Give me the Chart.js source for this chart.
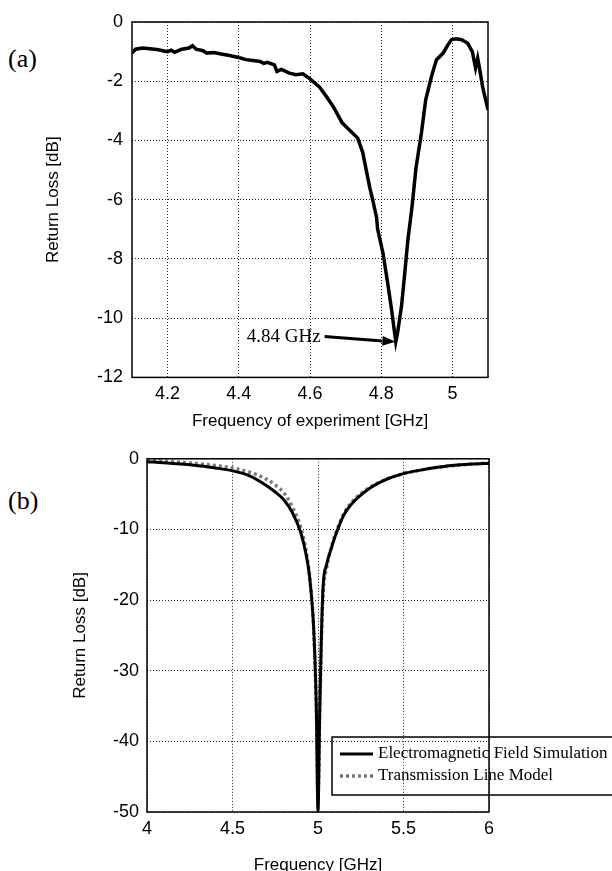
<!DOCTYPE html>
<html>
<head>
<meta charset="utf-8">
<script src="https://cdn.jsdelivr.net/npm/chart.js@4/dist/chart.umd.min.js"></script>
<style>
  body { margin: 0; width: 612px; height: 871px; overflow: hidden; background: #fff; position: relative; }
  canvas { position: absolute; left: 0; }
  .tag { position: absolute; left: 8px; font: 26px "Liberation Serif", "Times New Roman", serif; color: #000; }
</style>
</head>
<body>
<div class="tag" style="top:44px">(a)</div>
<div class="tag" style="top:486px">(b)</div>
<canvas id="chartA" width="612" height="440" style="top:0"></canvas>
<canvas id="chartB" width="612" height="440" style="top:440px"></canvas>
<script>
// (a) measured return loss
const freqA = [4.10, 4.11, 4.13, 4.15, 4.17, 4.19, 4.20, 4.21, 4.22, 4.24, 4.26, 4.27, 4.28, 4.30, 4.31, 4.33, 4.35, 4.37, 4.38, 4.40,
               4.42, 4.44, 4.46, 4.47, 4.48, 4.50, 4.507, 4.52, 4.54, 4.56, 4.58, 4.60, 4.627, 4.645, 4.665, 4.69, 4.71, 4.734, 4.748, 4.768,
               4.776, 4.787, 4.79, 4.805, 4.818, 4.829, 4.841, 4.846, 4.857, 4.866, 4.875, 4.886, 4.898, 4.913, 4.925, 4.941, 4.955, 4.974, 4.987, 4.997,
               5.01, 5.026, 5.043, 5.056, 5.065, 5.071, 5.076, 5.085, 5.10];
const lossA = [-1.05, -0.92, -0.88, -0.9, -0.93, -0.98, -1.0, -0.95, -1.02, -0.92, -0.88, -0.8, -0.92, -0.97, -1.05, -1.03, -1.08, -1.12, -1.15, -1.2,
               -1.27, -1.3, -1.33, -1.4, -1.36, -1.45, -1.67, -1.6, -1.72, -1.78, -1.75, -1.92, -2.2, -2.5, -2.85, -3.4, -3.64, -3.92, -4.4, -5.6,
               -6.0, -6.6, -7.0, -7.8, -8.8, -9.7, -10.8, -10.5, -9.6, -8.5, -7.35, -6.3, -4.9, -3.75, -2.63, -1.85, -1.28, -1.05, -0.78, -0.6,
               -0.57, -0.6, -0.72, -1.0, -1.55, -1.22, -1.55, -2.2, -2.97];
const xTicksA = [4.2, 4.4, 4.6, 4.8, 5.0];
const yTicksA = [0, -2, -4, -6, -8, -10, -12];
const annotFreq = 4.84, annotLoss = -10.8, annotTailFreq = 4.641, annotTailLoss = -10.62;
const annotText = '4.84 GHz';

// (b) simulation vs transmission line model
const freqB = [4.0, 4.1, 4.2, 4.3, 4.4, 4.5, 4.6, 4.7, 4.75, 4.8, 4.85, 4.9, 4.93, 4.95, 4.97, 4.98, 4.99, 5.0,
               5.01, 5.02, 5.03, 5.05, 5.08, 5.1, 5.15, 5.2, 5.3, 5.4, 5.5, 5.6, 5.7, 5.8, 5.9, 6.0];
const simB = [-0.4, -0.55, -0.75, -1.0, -1.3, -1.7, -2.4, -3.8, -4.7, -5.8, -7.6, -10.5, -13.5, -16.5, -22, -27, -35, -50,
              -36, -25, -18, -15, -12.5, -11, -8, -6.3, -4.2, -2.9, -2.1, -1.6, -1.2, -0.9, -0.75, -0.65];
const tlB = [-0.3, -0.35, -0.5, -0.7, -0.95, -1.3, -1.9, -2.9, -3.7, -4.8, -6.8, -9.8, -13, -16.5, -22, -27, -35, -48,
             -36, -25.5, -19, -15.5, -12.3, -10.8, -7.8, -6.1, -4.1, -2.9, -2.1, -1.6, -1.2, -0.95, -0.75, -0.6];
const xTicksB = [4, 4.5, 5, 5.5, 6];
const yTicksB = [0, -10, -20, -30, -40, -50];
const seriesNames = ['Electromagnetic Field Simulation', 'Transmission Line Model'];

Chart.defaults.font.family = '"Liberation Sans", Arial, sans-serif';
Chart.defaults.color = '#000';

function pts(xs, ys) { return xs.map((x, i) => ({x: x, y: ys[i]})); }
function fmt(v) { return String(Math.round(v * 100) / 100); }

// solid frame round the plot area
const framePlugin = {
  id: 'frame',
  afterDraw(chart) {
    const a = chart.chartArea, ctx = chart.ctx;
    ctx.save();
    ctx.strokeStyle = '#000';
    ctx.lineWidth = 1.5;
    ctx.strokeRect(a.left, a.top, a.right - a.left, a.bottom - a.top);
    ctx.restore();
  }
};

function axes(xMin, xMax, xTicks, yMin, yMax, yTicks, yWidth, yPad, xHeight, xTitle) {
  const grid = {color: '#222', lineWidth: 1, drawTicks: false};
  return {
    x: {
      type: 'linear', min: xMin, max: xMax,
      afterBuildTicks: s => { s.ticks = xTicks.map(v => ({value: v})); },
      afterFit: s => { s.height = xHeight; },
      grid: grid, border: {display: false, dash: [1, 2]},
      ticks: {padding: 6, font: {size: 18}, maxRotation: 0, callback: fmt},
      title: {display: true, text: xTitle, font: {size: 17}, padding: 0}
    },
    y: {
      type: 'linear', min: yMin, max: yMax,
      afterBuildTicks: s => { s.ticks = yTicks.map(v => ({value: v})); },
      afterFit: s => { s.width = yWidth; },
      grid: grid, border: {display: false, dash: [1, 2]},
      ticks: {padding: yPad, font: {size: 18}, callback: fmt},
      title: {display: true, text: 'Return Loss [dB]', font: {size: 17}, padding: 0}
    }
  };
}

// arrow pointing to the minimum of the measured curve
const arrowPlugin = {
  id: 'arrow',
  afterDatasetsDraw(chart) {
    const xs = chart.scales.x, ys = chart.scales.y, ctx = chart.ctx;
    const tx = xs.getPixelForValue(annotFreq), ty = ys.getPixelForValue(annotLoss);
    const sx = xs.getPixelForValue(annotTailFreq), sy = ys.getPixelForValue(annotTailLoss);
    const ang = Math.atan2(ty - sy, tx - sx), head = 13;
    ctx.save();
    ctx.strokeStyle = '#000';
    ctx.fillStyle = '#000';
    ctx.lineWidth = 3;
    ctx.beginPath();
    ctx.moveTo(sx, sy);
    ctx.lineTo(tx - head * Math.cos(ang), ty - head * Math.sin(ang));
    ctx.stroke();
    ctx.beginPath();
    ctx.moveTo(tx, ty);
    ctx.lineTo(tx - head * Math.cos(ang) + 5 * Math.sin(ang), ty - head * Math.sin(ang) - 5 * Math.cos(ang));
    ctx.lineTo(tx - head * Math.cos(ang) - 5 * Math.sin(ang), ty - head * Math.sin(ang) + 5 * Math.cos(ang));
    ctx.closePath();
    ctx.fill();
    ctx.font = '19px "Liberation Serif", "Times New Roman", serif';
    ctx.textAlign = 'right';
    ctx.textBaseline = 'middle';
    ctx.fillText(annotText, sx - 4, sy);
    ctx.restore();
  }
};

// legend box inside plot (b), transparent like the original
const boxLegend = {
  id: 'boxLegend',
  afterDraw(chart) {
    const ctx = chart.ctx;
    const x0 = 332, y0 = 297, h = 58;
    ctx.save();
    ctx.strokeStyle = '#000';
    ctx.lineWidth = 1.5;
    ctx.strokeRect(x0, y0, 300, h);
    ctx.font = '17px "Liberation Serif", "Times New Roman", serif';
    ctx.textBaseline = 'middle';
    ctx.fillStyle = '#000';
    chart.data.datasets.forEach((ds, i) => {
      const y = y0 + 17 + i * 22;
      ctx.strokeStyle = ds.borderColor;
      ctx.lineWidth = ds.borderWidth;
      ctx.setLineDash(ds.borderDash || []);
      ctx.beginPath();
      ctx.moveTo(x0 + 8, y);
      ctx.lineTo(x0 + 41, y);
      ctx.stroke();
      ctx.setLineDash([]);
      ctx.fillText(ds.label, x0 + 46, y);
    });
    ctx.restore();
  }
};

new Chart(document.getElementById('chartA'), {
  type: 'line',
  data: {
    datasets: [{
      data: pts(freqA, lossA),
      borderColor: '#000', borderWidth: 3.5, pointRadius: 0, tension: 0
    }]
  },
  options: {
    responsive: false, animation: false,
    layout: {padding: {left: 43, top: 22, right: 124, bottom: 8}},
    plugins: {legend: {display: false}, tooltip: {enabled: false}},
    scales: axes(4.1, 5.1, xTicksA, -12, 0, yTicksA, 89, 9, 54.6, 'Frequency of experiment [GHz]')
  },
  plugins: [framePlugin, arrowPlugin]
});

new Chart(document.getElementById('chartB'), {
  type: 'line',
  data: {
    datasets: [{
      label: seriesNames[0], data: pts(freqB, simB),
      borderColor: '#000', borderWidth: 3, pointRadius: 0, cubicInterpolationMode: 'monotone', order: 1
    }, {
      label: seriesNames[1], data: pts(freqB, tlB),
      borderColor: '#7a7a7a', borderWidth: 3.5, borderDash: [3, 3], pointRadius: 0, cubicInterpolationMode: 'monotone', order: 2
    }]
  },
  options: {
    responsive: false, animation: false,
    layout: {padding: {left: 70, top: 17, right: 123, bottom: 4.4}},
    plugins: {legend: {display: false}, tooltip: {enabled: false}},
    scales: axes(4, 6, xTicksB, -50, 0, yTicksB, 77, 8, 63.6, 'Frequency [GHz]')
  },
  plugins: [framePlugin, boxLegend]
});
</script>
</body>
</html>
